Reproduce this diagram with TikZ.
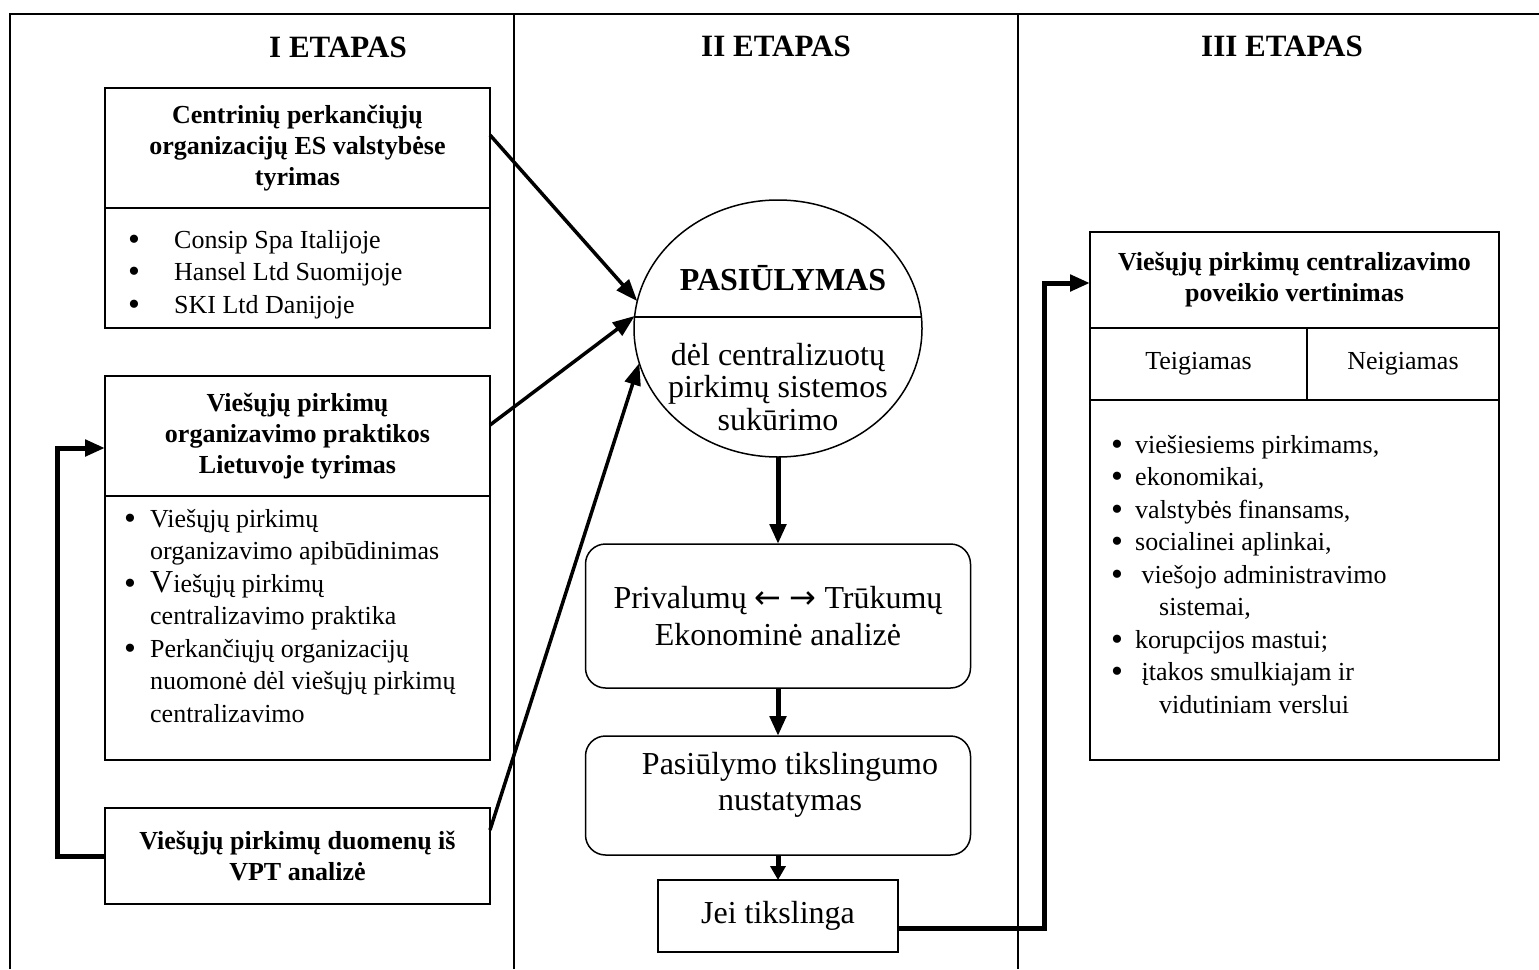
\documentclass[tikz,border=0pt]{standalone}
\usepackage{fontspec}
\setmainfont{Liberation Serif}
\newfontfamily\arrowfont{DejaVu Sans}
\usetikzlibrary{arrows.meta,shapes.geometric,positioning}
\tikzset{
    frame/.style={line width=1.8pt},
    heading/.style={font=\fontsize{31}{36}\selectfont\bfseries},
    boxed/.style={draw,line width=1.8pt,inner sep=0pt,outer sep=0pt,align=center,font=\fontsize{26}{31}\selectfont},
    titlebox/.style={boxed,minimum width=385pt,font=\fontsize{26}{31}\selectfont\bfseries},
    listtext/.style={inner sep=0pt,align=left,anchor=north west,font=\fontsize{26}{32.5}\selectfont},
    stagebox/.style={boxed,line width=1.5pt,rounded corners=20pt,minimum width=385pt,font=\fontsize{32}{37}\selectfont},
    bigtext/.style={align=center,inner sep=0pt,font=\fontsize{32}{36}\selectfont},
    feed/.style={line width=5pt,-{Triangle[length=20pt,width=16pt]}},
    into/.style={line width=3.5pt,-{Triangle[length=22pt,width=16pt]}},
    down/.style={line width=5pt,-{Triangle[length=20pt,width=16pt]}}
}
\newcommand\lbul[2][34]{\makebox[#2][l]{\raisebox{-2pt}{\fontsize{#1}{#1}\selectfont\textbullet}}}

\begin{document}
\begin{tikzpicture}[x=1pt,y=-1pt]
  \useasboundingbox (0,0) rectangle (1539,969);

  % Columns
  \draw[frame] (10,969) -- (10,14) -- (1539,14);
  \draw[frame] (514,14) -- (514,969);
  \draw[frame] (1018,14) -- (1018,969);
  \node[heading] (et1) at (338,47) {I ETAPAS};
  \node[heading] (et2) at (776,46) {II ETAPAS};
  \node[heading] (et3) at (1282,46) {III ETAPAS};

  % I etapas
  \node[titlebox,minimum height=120pt] (cpo) at (297.5,148) {Centrinių perkančiųjų\\organizacijų ES valstybėse\\tyrimas};
  \node[boxed,minimum width=385pt,minimum height=120pt,below=0pt of cpo] (cpol) {};
  \node[listtext] (cpot) at (128,230) {\lbul{46pt}Consip Spa Italijoje\\\lbul{46pt}Hansel Ltd Suomijoje\\\lbul{46pt}SKI Ltd Danijoje};

  \node[titlebox,minimum height=120pt] (vpo) at (297.5,436) {Viešųjų pirkimų\\organizavimo praktikos\\Lietuvoje tyrimas};
  \node[boxed,minimum width=385pt,minimum height=264pt,below=0pt of vpo] (vpol) {};
  \node[listtext] (vpot) at (124,509) {\lbul{26pt}Viešųjų pirkimų\\\hspace*{26pt}organizavimo apibūdinimas\\\lbul{26pt}{\fontsize{32}{32.5}\selectfont V}iešųjų pirkimų\\\hspace*{26pt}centralizavimo praktika\\\lbul{26pt}Perkančiųjų organizacijų\\\hspace*{26pt}nuomonė dėl viešųjų pirkimų\\\hspace*{26pt}centralizavimo};

  \node[titlebox,minimum height=96pt] (vpt) at (297.5,856) {Viešųjų pirkimų duomenų iš\\VPT analizė};
  \draw[feed] (vpt.west) -- ++(-48pt,0) |- ([yshift=-12pt]vpo.west);

  % II etapas
  \node[draw,ellipse,line width=1.5pt,inner sep=0pt,outer sep=0pt,minimum width=288pt,minimum height=257pt] (pas) at (778,328.5) {};
  \draw[line width=1.5pt] ([yshift=11.5pt]pas.west) -- ([yshift=11.5pt]pas.east);
  \node[bigtext,font=\fontsize{32}{36}\selectfont\bfseries] (pash) at (783,278) {PASIŪLYMAS};
  \node[bigtext,font=\fontsize{32}{32.5}\selectfont] (pasb) at (778,387) {dėl centralizuotų\\pirkimų sistemos\\sukūrimo};
  \draw[into] ([yshift=13pt]cpo.east) -- (pas.169);
  \draw[into] ([yshift=11pt]vpo.east) -- (pas.175);
  \draw[into] ([yshift=26pt]vpt.east) -- (pas.194);

  \node[stagebox,minimum height=144pt] (eka) at (778,616) {Privalumų {\arrowfont ←} {\arrowfont →} Trūkumų\\Ekonominė analizė};
  \node[stagebox,minimum height=119pt] (pt) at (778,795.5) {};
  \node[bigtext] (ptt) at (790,785) {Pasiūlymo tikslingumo\\nustatymas};
  \node[boxed,line width=1.5pt,minimum width=240pt,minimum height=72pt,font=\fontsize{32}{36}\selectfont] (jt) at (778,916) {Jei tikslinga};
  \draw[down] (pas.south) -- (eka.north);
  \draw[down] (eka.south) -- (pt.north);
  \draw[down,-{Triangle[length=14pt,width=15pt]}] (pt.south) -- (jt.north);

  % III etapas
  \node[titlebox,minimum width=409pt,minimum height=96pt] (pvv) at (1294.5,280) {Viešųjų pirkimų centralizavimo\\poveikio vertinimas};
  \node[boxed,minimum width=217pt,minimum height=72pt,anchor=north west] (teig) at (pvv.south west) {Teigiamas};
  \node[boxed,minimum width=192pt,minimum height=72pt,anchor=north east] (neig) at (pvv.south east) {Neigiamas};
  \node[boxed,minimum width=409pt,minimum height=360pt,anchor=north west] (pvvl) at (teig.south west) {};
  \node[listtext] (pvvt) at (1111,435) {\lbul{24pt}viešiesiems pirkimams,\\\lbul{24pt}ekonomikai,\\\lbul{24pt}valstybės finansams,\\\lbul{24pt}socialinei aplinkai,\\\lbul{24pt} viešojo administravimo\\\hspace*{48pt}sistemai,\\\lbul{24pt}korupcijos mastui;\\\lbul{24pt} įtakos smulkiajam ir\\\hspace*{48pt}vidutiniam verslui};
  \draw[feed] ([yshift=-12pt]jt.east) -- ++(146pt,0) |- ([yshift=-3pt]pvv.west);
\end{tikzpicture}
\end{document}
